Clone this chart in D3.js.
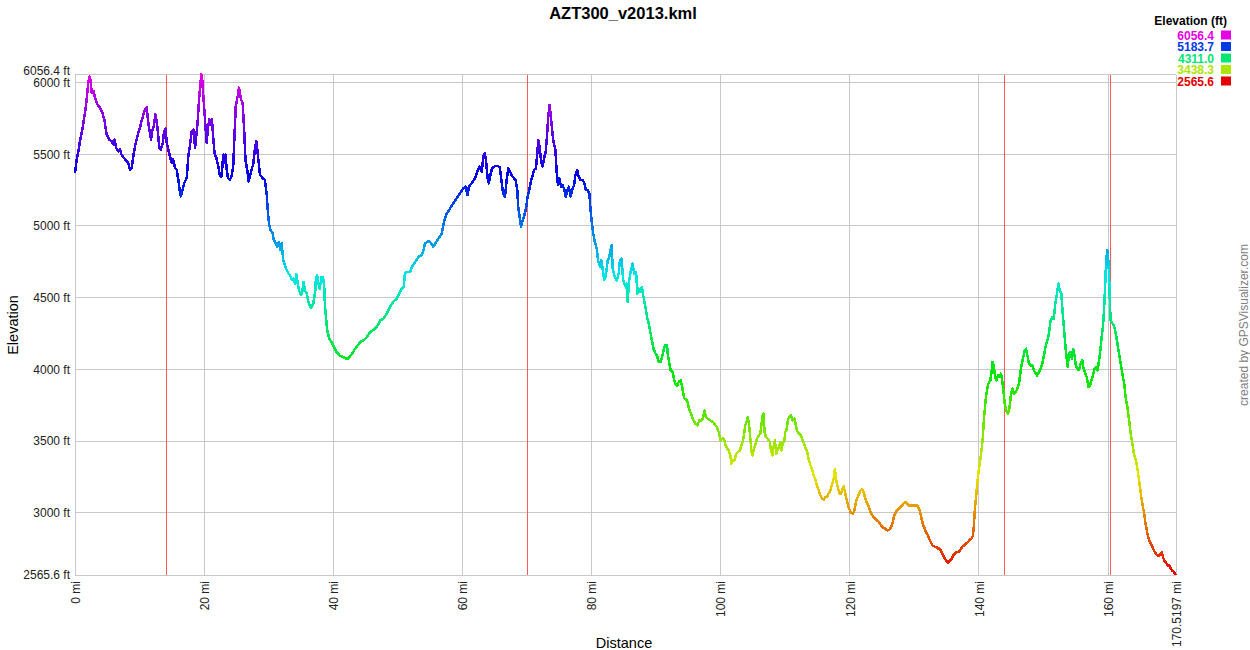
<!DOCTYPE html>
<html>
<head>
<meta charset="utf-8">
<script src="https://cdn.jsdelivr.net/npm/d3@7"></script>
<style>
  body { margin: 0; background: #fff; }
  text { font-family: "Liberation Sans", Arial, sans-serif; }
</style>
</head>
<body>
<script>
// elevation profile, [distance (mi), elevation (ft)]
let profile = [
  [0,5369],[0.26,5463],[0.52,5521],[0.77,5591],[1.14,5673],[1.55,5790],[1.81,5883],[2.06,6000],[2.22,6042],[2.43,6012],
  [2.58,5930],[2.84,5942],[3.1,5895],[3.46,5848],[3.87,5825],[4.23,5790],[4.54,5743],[4.9,5638],[5.3,5603],[5.68,5591],
  [5.94,5568],[6.14,5603],[6.35,5545],[6.7,5521],[6.97,5533],[7.2,5498],[7.6,5474],[8.0,5451],[8.26,5439],[8.5,5393],
  [8.77,5404],[9.03,5486],[9.3,5556],[9.55,5603],[9.8,5650],[10.06,5685],[10.3,5731],[10.6,5778],[10.84,5813],[11.1,5829],
  [11.3,5743],[11.5,5673],[11.77,5603],[11.97,5661],[12.2,5696],[12.44,5778],[12.65,5731],[12.85,5650],[13.06,5545],[13.3,5533],
  [13.6,5580],[13.8,5661],[14.04,5678],[14.2,5580],[14.45,5533],[14.7,5486],[14.97,5439],[15.2,5463],[15.5,5404],[15.74,5393],
  [16.0,5323],[16.26,5229],[16.4,5206],[16.67,5252],[16.93,5299],[17.3,5334],[17.55,5486],[17.8,5556],[18.07,5661],[18.33,5673],
  [18.6,5545],[18.8,5638],[19.0,5731],[19.2,5872],[19.4,5988],[19.56,6056.4],[19.7,6023],[19.87,5907],[20.1,5766],[20.2,5696],
  [20.4,5580],[20.6,5685],[20.8,5743],[21.0,5708],[21.2,5743],[21.4,5626],[21.6,5509],[21.9,5474],[22.2,5416],[22.45,5346],
  [22.7,5346],[22.97,5498],[23.1,5439],[23.3,5498],[23.5,5393],[23.7,5334],[24.0,5323],[24.26,5346],[24.5,5416],[24.7,5626],
  [24.9,5836],[25.2,5907],[25.4,5965],[25.7,5883],[25.96,5860],[26.2,5673],[26.4,5463],[26.7,5381],[26.9,5311],[27.1,5346],
  [27.4,5404],[27.6,5428],[27.9,5556],[28.1,5591],[28.4,5463],[28.65,5358],[29.06,5334],[29.4,5323],[29.7,5217],[29.85,5112],
  [30.06,5007],[30.3,4972],[30.6,4949],[30.8,4902],[31.07,4879],[31.3,4855],[31.6,4890],[31.8,4832],[32.0,4879],[32.26,4762],
  [32.5,4727],[32.8,4692],[33.07,4668],[33.3,4657],[33.57,4622],[33.8,4633],[34.07,4598],[34.3,4664],[34.5,4598],[34.7,4552],
  [35.0,4517],[35.2,4540],[35.4,4610],[35.6,4552],[35.9,4528],[36.1,4482],[36.4,4435],[36.6,4430],[36.9,4458],[37.2,4540],
  [37.3,4622],[37.5,4657],[37.7,4598],[37.9,4563],[38.2,4645],[38.4,4645],[38.6,4575],[38.7,4458],[38.86,4365],[39.07,4271],
  [39.4,4213],[39.74,4190],[40.0,4166],[40.26,4143],[40.5,4120],[40.77,4108],[41.0,4096],[41.55,4085],[42.06,4073],[42.37,4075],
  [42.9,4110],[43.4,4144],[44.2,4191],[44.7,4203],[45.2,4226],[45.7,4261],[46.2,4273],[46.75,4296],[47.3,4343],[47.8,4354],
  [48.3,4389],[48.8,4436],[49.3,4471],[49.85,4494],[50.2,4529],[50.6,4564],[50.9,4575],[51.1,4669],[51.4,4680],[51.9,4680],
  [52.2,4715],[52.7,4750],[53.2,4785],[53.7,4797],[54.0,4832],[54.2,4878],[54.6,4890],[55.0,4890],[55.3,4867],[55.5,4855],
  [55.8,4878],[56.3,4913],[56.8,4948],[57.1,5018],[57.3,5053],[57.6,5088],[58.1,5123],[58.6,5158],[59.1,5193],[59.6,5227],
  [60.15,5262],[60.5,5274],[60.8,5216],[61.0,5274],[61.4,5297],[61.96,5332],[62.4,5391],[62.7,5414],[63.0,5379],[63.25,5484],
  [63.45,5507],[63.66,5460],[63.9,5332],[64.1,5297],[64.4,5367],[64.6,5402],[65.05,5418],[65.5,5418],[65.8,5409],[66.1,5297],
  [66.3,5227],[66.6,5204],[66.86,5321],[67.1,5402],[67.4,5379],[67.6,5356],[68.0,5332],[68.25,5321],[68.5,5251],[68.66,5123],
  [68.9,5053],[69.07,4995],[69.3,5030],[69.6,5076],[69.85,5123],[70.1,5204],[70.36,5251],[70.6,5309],[70.9,5356],[71.1,5391],
  [71.4,5402],[71.6,5507],[71.75,5600],[71.96,5553],[72.2,5449],[72.4,5414],[72.6,5460],[72.9,5519],[73.1,5623],[73.3,5763],
  [73.5,5845],[73.7,5763],[73.9,5670],[74.1,5588],[74.4,5530],[74.6,5379],[74.8,5286],[75.0,5332],[75.3,5274],[75.5,5286],
  [75.8,5251],[76.0,5204],[76.2,5239],[76.5,5274],[76.75,5204],[77.0,5251],[77.3,5286],[77.5,5356],[77.8,5391],[78.0,5344],
  [78.3,5321],[78.6,5321],[78.9,5297],[79.1,5251],[79.4,5251],[79.66,5227],[79.85,5111],[80.05,5018],[80.26,4948],[80.5,4890],
  [80.8,4843],[81.0,4762],[81.3,4715],[81.5,4762],[81.75,4692],[81.96,4622],[82.2,4645],[82.5,4762],[82.7,4773],[82.9,4820],
  [83.1,4866],[83.3,4692],[83.6,4645],[83.9,4621],[84.2,4667],[84.4,4760],[84.65,4772],[84.9,4621],[85.17,4586],[85.4,4598],
  [85.6,4470],[85.8,4609],[86.1,4691],[86.35,4737],[86.6,4667],[86.9,4679],[87.1,4528],[87.3,4563],[87.5,4540],[87.8,4574],
  [88.0,4516],[88.3,4447],[88.6,4365],[88.8,4330],[89.06,4272],[89.35,4202],[89.6,4144],[89.8,4121],[90.2,4086],[90.4,4051],
  [90.7,4051],[91.0,4098],[91.2,4144],[91.4,4167],[91.7,4167],[91.8,4109],[92.04,4040],[92.25,3993],[92.56,3981],[92.8,3923],
  [93.1,3888],[93.3,3888],[93.5,3912],[93.8,3923],[94.0,3888],[94.16,3842],[94.4,3795],[94.8,3784],[95.04,3737],[95.3,3702],
  [95.66,3656],[96.07,3621],[96.4,3609],[96.7,3644],[97.1,3644],[97.36,3679],[97.5,3714],[97.7,3667],[98.0,3656],[98.4,3644],
  [98.8,3633],[99.2,3609],[99.4,3598],[99.7,3563],[99.95,3505],[100.2,3516],[100.5,3516],[100.7,3481],[100.98,3447],[101.24,3435],
  [101.5,3400],[101.65,3342],[101.86,3365],[102.17,3365],[102.4,3412],[102.7,3423],[103.0,3435],[103.2,3470],[103.4,3493],[103.6,3540],
  [103.8,3609],[104.0,3633],[104.2,3667],[104.4,3609],[104.6,3516],[104.75,3435],[104.9,3400],[105.1,3435],[105.4,3481],[105.6,3516],
  [105.9,3540],[106.15,3551],[106.3,3609],[106.5,3679],[106.6,3691],[106.8,3563],[107.0,3528],[107.3,3516],[107.6,3493],[107.8,3435],
  [108.0,3400],[108.2,3458],[108.4,3505],[108.6,3412],[108.8,3435],[109.1,3470],[109.25,3493],[109.4,3435],[109.6,3481],[109.87,3505],
  [110.0,3563],[110.2,3574],[110.4,3644],[110.6,3667],[110.9,3679],[111.1,3644],[111.4,3656],[111.6,3621],[111.8,3574],[112.1,3551],
  [112.4,3540],[112.6,3516],[112.9,3481],[113.1,3458],[113.4,3423],[113.6,3377],[113.9,3330],[114.2,3295],[114.4,3260],[114.7,3226],
  [114.9,3191],[115.2,3156],[115.45,3121],[115.7,3098],[115.97,3091],[116.2,3109],[116.5,3109],[116.7,3133],[116.98,3156],[117.2,3191],
  [117.5,3237],[117.7,3307],[117.8,3260],[118.0,3202],[118.2,3167],[118.4,3133],[118.66,3133],[118.86,3167],[119.07,3184],[119.3,3133],
  [119.6,3074],[119.8,3040],[120.1,3005],[120.5,2993],[120.7,3016],[120.9,3063],[121.1,3098],[121.4,3128],[121.65,3156],[121.9,3167],
  [122.2,3133],[122.4,3098],[122.7,3063],[122.95,3040],[123.2,3005],[123.5,2981],[123.7,2970],[123.97,2958],[124.2,2947],[124.5,2935],
  [124.8,2916],[125.0,2900],[125.3,2893],[125.5,2888],[125.8,2877],[126.15,2881],[126.4,2900],[126.6,2923],[126.75,2958],[127.0,2993],
  [127.3,3016],[127.6,3028],[127.86,3040],[128.1,3051],[128.4,3067],[128.6,3074],[128.9,3063],[129.15,3051],[129.7,3051],[130.2,3051],
  [130.5,3051],[130.8,3016],[131.06,2970],[131.3,2923],[131.6,2888],[131.8,2865],[132.1,2842],[132.4,2807],[132.8,2772],[133.07,2765],
  [133.4,2760],[133.7,2749],[133.95,2749],[134.2,2726],[134.47,2702],[134.7,2679],[134.98,2663],[135.2,2649],[135.5,2667],[135.76,2679],
  [136.0,2702],[136.3,2714],[136.5,2726],[136.9,2726],[137.2,2749],[137.5,2765],[137.7,2772],[138.0,2784],[138.3,2795],[138.6,2812],
  [138.86,2819],[139.07,2842],[139.2,2900],[139.4,3040],[139.6,3133],[139.8,3226],[140.0,3307],[140.2,3365],[140.4,3435],[140.6,3528],
  [140.8,3667],[141.03,3784],[141.24,3853],[141.45,3900],[141.76,3923],[141.96,3981],[142.1,4051],[142.3,4028],[142.5,3946],[142.7,3923],
  [142.95,3958],[143.2,3946],[143.4,3970],[143.6,3923],[143.8,3853],[143.98,3760],[144.2,3714],[144.5,3691],[144.75,3737],[144.96,3830],
  [145.17,3865],[145.4,3830],[145.7,3842],[145.94,3865],[146.2,3900],[146.4,3970],[146.6,4028],[146.87,4086],[147.1,4133],[147.3,4144],
  [147.5,4098],[147.75,4040],[148.0,4028],[148.27,4028],[148.5,3993],[148.8,3970],[149.0,3958],[149.3,3981],[149.56,4005],[149.8,4040],
  [150.08,4098],[150.3,4156],[150.6,4202],[150.85,4249],[151.1,4342],[151.4,4365],[151.6,4353],[151.8,4447],[152.04,4516],[152.3,4598],
  [152.5,4551],[152.76,4528],[152.97,4388],[153.2,4272],[153.4,4156],[153.6,4074],[153.75,4016],[153.95,4109],[154.2,4121],[154.4,4074],
  [154.6,4144],[154.8,4098],[155.0,4028],[155.25,4005],[155.5,3993],[155.8,4051],[156.0,4063],[156.2,4005],[156.4,3981],[156.7,3946],
  [156.95,3877],[157.2,3888],[157.4,3923],[157.67,3958],[157.9,4005],[158.2,4016],[158.4,3993],[158.6,4063],[158.8,4133],[159.0,4226],
  [159.2,4295],[159.4,4435],[159.56,4598],[159.7,4760],[159.9,4830],[160.0,4784],[160.15,4667],[160.3,4435],[160.4,4342],[160.67,4319],
  [160.9,4307],[161.2,4249],[161.45,4179],[161.7,4109],[161.96,4040],[162.2,3970],[162.5,3900],[162.7,3807],[163.0,3737],[163.26,3644],
  [163.5,3551],[163.77,3481],[164.0,3412],[164.3,3365],[164.5,3319],[164.8,3226],[165.0,3156],[165.3,3063],[165.6,2993],[165.8,2923],
  [166.1,2853],[166.36,2807],[166.6,2784],[166.9,2760],[167.1,2737],[167.4,2714],[167.65,2702],[167.9,2702],[168.2,2714],[168.3,2726],
  [168.5,2691],[168.7,2667],[168.9,2656],[169.2,2633],[169.5,2633],[169.7,2609],[169.9,2598],[170.2,2586],[170.5197,2565.6]
];

let minElev = 2565.6;
let maxElev = 6056.4;
let totalDist = 170.5197;

let yTicks = [6000, 5500, 5000, 4500, 4000, 3500, 3000];
let xTicks = [0, 20, 40, 60, 80, 100, 120, 140, 160];
let legendValues = [6056.4, 5183.7, 4311.0, 3438.3, 2565.6];
// red waypoint lines (mi)
let markers = [14.15, 70.07, 143.97, 160.4];

let width = 1250;
let height = 650;
let svg = d3.select("body").append("svg")
    .attr("width", width)
    .attr("height", height);

let x = d3.scaleLinear().domain([0, totalDist]).range([75, 1176]);
let y = d3.scaleLinear().domain([minElev, maxElev]).range([575, 74.5]);

// elevation -> hue, red at the bottom to magenta at the top
function elevColor(e) {
  let t = (e - minElev) / (maxElev - minElev);
  return d3.hsl(300 * t, 1, 0.45).formatHex();
}

// title
svg.append("text")
   .attr("x", 623).attr("y", 19)
   .attr("text-anchor", "middle")
   .style("font-size", "16.5px").style("font-weight", "bold")
   .text("AZT300_v2013.kml");

// grid
let grid = svg.append("g").attr("stroke", "#c8c8c8").attr("stroke-width", 1)
              .attr("shape-rendering", "crispEdges");
grid.selectAll("line.h")
    .data([minElev].concat(yTicks, [maxElev]))
    .enter().append("line")
    .attr("x1", x(0)).attr("x2", x(totalDist))
    .attr("y1", d => y(d)).attr("y2", d => y(d));
grid.selectAll("line.v")
    .data(xTicks.concat([totalDist]))
    .enter().append("line")
    .attr("x1", d => x(d)).attr("x2", d => x(d))
    .attr("y1", y(maxElev)).attr("y2", y(minElev));

// waypoint markers
svg.append("g").selectAll("line")
   .data(markers)
   .enter().append("line")
   .attr("x1", d => x(d)).attr("x2", d => x(d))
   .attr("y1", y(maxElev)).attr("y2", y(minElev))
   .attr("stroke", "#ff5a5a").attr("stroke-width", 1)
   .attr("shape-rendering", "crispEdges");

// y axis labels
let yAxis = d3.axisLeft(y)
    .tickValues([maxElev].concat(yTicks, [minElev]))
    .tickSize(0).tickPadding(5)
    .tickFormat(d => (d === maxElev || d === minElev ? d.toFixed(1) : d) + " ft");
let yg = svg.append("g").attr("transform", "translate(75,0)").call(yAxis);
yg.select(".domain").remove();
yg.selectAll("text")
  .style("font-size", "12px").style("font-family", "Liberation Sans, Arial, sans-serif")
  .attr("fill", "#222")
  .attr("y", d => (d === maxElev ? -4 : 0));

// x axis labels, rotated
let xAxis = d3.axisBottom(x)
    .tickValues(xTicks.concat([totalDist]))
    .tickSize(0)
    .tickFormat(d => (d === totalDist ? "170.5197" : d) + " mi");
let xg = svg.append("g").attr("transform", "translate(0,575)").call(xAxis);
xg.select(".domain").remove();
xg.selectAll("text")
  .style("font-size", "12px").style("font-family", "Liberation Sans, Arial, sans-serif")
  .attr("fill", "#222")
  .attr("transform", "rotate(-90)")
  .attr("text-anchor", "end")
  .attr("x", -6).attr("y", 0).attr("dy", "0.35em");

// axis titles
svg.append("text")
   .attr("transform", "translate(18,325) rotate(-90)")
   .attr("text-anchor", "middle")
   .style("font-size", "14.5px")
   .text("Elevation");
svg.append("text")
   .attr("x", 624).attr("y", 648)
   .attr("text-anchor", "middle")
   .style("font-size", "14.5px")
   .text("Distance");

// credit
svg.append("text")
   .attr("transform", "translate(1248,325) rotate(-90)")
   .attr("text-anchor", "middle")
   .attr("fill", "#808080")
   .style("font-size", "12px")
   .text("created by GPSVisualizer.com");

// gradient keyed to elevation
let grad = svg.append("defs").append("linearGradient")
    .attr("id", "elevGrad")
    .attr("gradientUnits", "userSpaceOnUse")
    .attr("x1", 0).attr("x2", 0)
    .attr("y1", y(minElev)).attr("y2", y(maxElev));
grad.selectAll("stop")
    .data(d3.range(0, 31))
    .enter().append("stop")
    .attr("offset", d => d / 30)
    .attr("stop-color", d => elevColor(minElev + (maxElev - minElev) * d / 30));

let line = d3.line()
    .x(d => x(d[0]))
    .y(d => y(d[1]));

svg.append("path")
   .datum(profile)
   .attr("d", line)
   .attr("fill", "none")
   .attr("stroke", "url(#elevGrad)")
   .attr("stroke-width", 2.5)
   .attr("stroke-linejoin", "round")
   .attr("shape-rendering", "crispEdges");

// legend
let legend = svg.append("g");
legend.append("text")
      .attr("x", 1227).attr("y", 25)
      .attr("text-anchor", "end")
      .style("font-size", "12px").style("font-weight", "bold")
      .text("Elevation (ft)");
let entries = legend.selectAll("g.entry")
    .data(legendValues)
    .enter().append("g")
    .attr("transform", (d, i) => "translate(0," + (30.5 + i * 11.5) + ")");
entries.append("text")
       .attr("x", 1214).attr("y", 9)
       .attr("text-anchor", "end")
       .attr("fill", d => elevColor(d))
       .style("font-size", "12px").style("font-weight", "bold")
       .text(d => d.toFixed(1));
entries.append("rect")
       .attr("x", 1221).attr("y", 0)
       .attr("width", 10).attr("height", 9)
       .attr("fill", d => elevColor(d));
</script>
</body>
</html>
